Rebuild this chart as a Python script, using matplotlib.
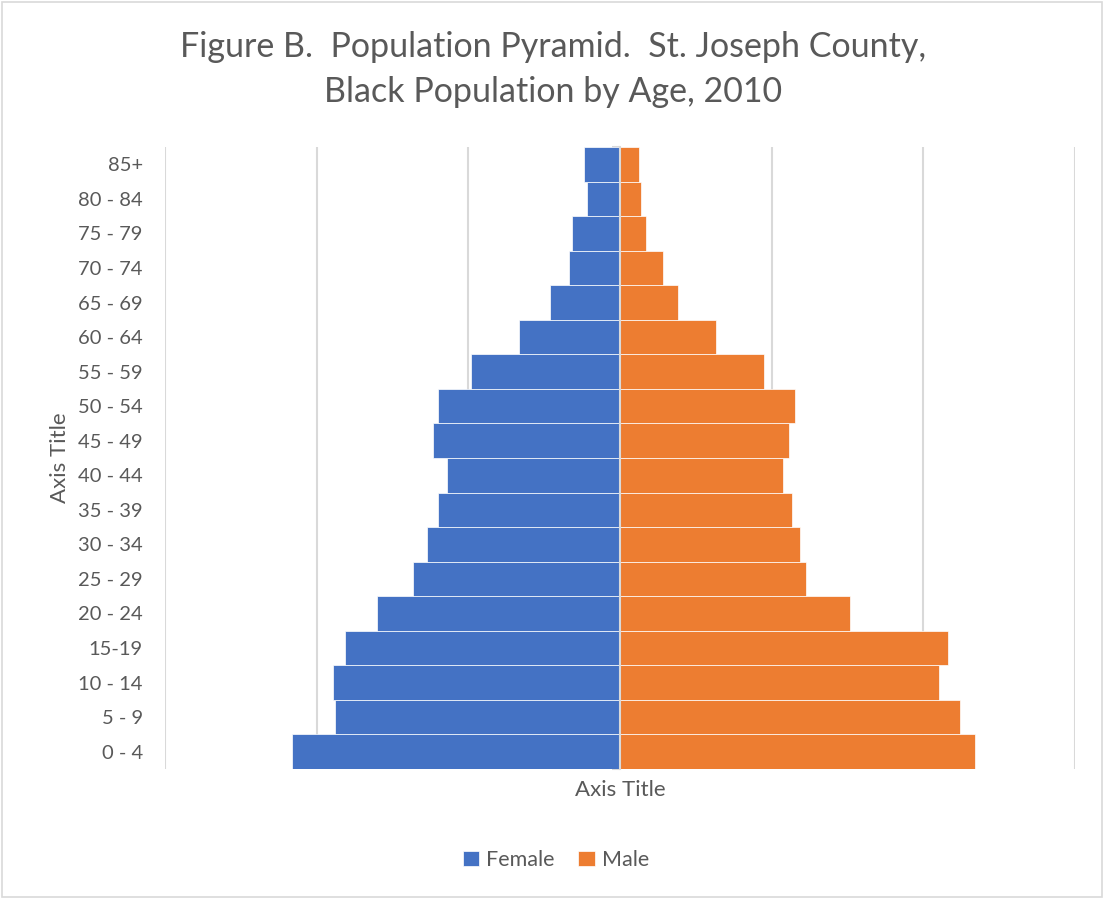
import matplotlib
matplotlib.use("Agg")
import matplotlib.pyplot as plt
from matplotlib.patches import Rectangle
import numpy as np

age_groups = ["0 - 4", "5 - 9", "10 - 14", "15-19", "20 - 24", "25 - 29", "30 - 34",
              "35 - 39", "40 - 44", "45 - 49", "50 - 54", "55 - 59", "60 - 64",
              "65 - 69", "70 - 74", "75 - 79", "80 - 84", "85+"]
female = [1082, 940, 947, 908, 800, 681, 635, 599, 569, 615, 599, 490, 332, 230, 168, 158, 108, 118]
male = [1171, 1122, 1053, 1082, 757, 612, 595, 566, 536, 556, 576, 474, 316, 191, 141, 86, 69, 63]

title_lines = ["Figure B.  Population Pyramid.  St. Joseph County,",
               "Black Population by Age, 2010"]

plt.rcParams['font.family'] = ['Lato', 'DejaVu Sans']
txt = "#595959"
grid_c = "#d9d9d9"

W, H = 1104, 899
fig = plt.figure(figsize=(W/100, H/100), dpi=100)
ax = fig.add_axes([165/W, 1-769/H, 910/W, 622/H])

y = np.arange(len(age_groups))
ax.barh(y, -np.array(female), height=1.0, color="#4472C4", edgecolor="white", linewidth=0.5, label="Female", zorder=2)
ax.barh(y, male, height=1.0, color="#ED7D31", edgecolor="white", linewidth=0.5, label="Male", zorder=2)

ax.set_xlim(-1500, 1500)
ax.set_ylim(-0.5, len(age_groups) - 0.5)
ax.set_xticks([-1500, -1000, -500, 0, 500, 1000, 1500])
ax.tick_params(axis='x', length=0, labelbottom=False)
ax.grid(axis='x', color=grid_c, linewidth=1.5, zorder=0)
ax.set_axisbelow(True)

for s in ["top", "bottom", "left"]:
    ax.spines[s].set_visible(False)
ax.spines["right"].set_position(("data", 0))
ax.spines["right"].set_color(grid_c)
ax.spines["right"].set_linewidth(1.5)
ax.spines["right"].set_zorder(3)

ax.set_yticks(y)
ax.set_yticklabels(age_groups, fontsize=14.5, color=txt)
ax.set_yticks(np.arange(-0.5, len(age_groups), 1.0), minor=True)
ax.tick_params(axis='y', which='major', length=0, pad=16, left=False, right=False)
ax.tick_params(axis='y', which='minor', left=False, right=True, direction='in',
               length=6, width=1.5, color=grid_c)

ax.set_xlabel("Axis Title", fontsize=16, color=txt, labelpad=8)
ax.set_ylabel("Axis Title", fontsize=16, color=txt, labelpad=6)

fig.text(553/W, 1-47/H, title_lines[0], fontsize=24.5, color=txt, ha="center", va="center")
fig.text(553/W, 1-92/H, title_lines[1], fontsize=24.5, color=txt, ha="center", va="center")

fig.legend(loc="center", bbox_to_anchor=(556/W, 1-860/H), ncol=2, frameon=False,
           fontsize=15.5, labelcolor=txt, handlelength=0.75, handleheight=0.75,
           handletextpad=0.35, columnspacing=1.1)

fig.patches.append(Rectangle((0.002, 0.002), 0.996, 0.996, transform=fig.transFigure,
                             fill=False, edgecolor=grid_c, linewidth=1.2))

fig.savefig("out.png", dpi=100, facecolor="white")
